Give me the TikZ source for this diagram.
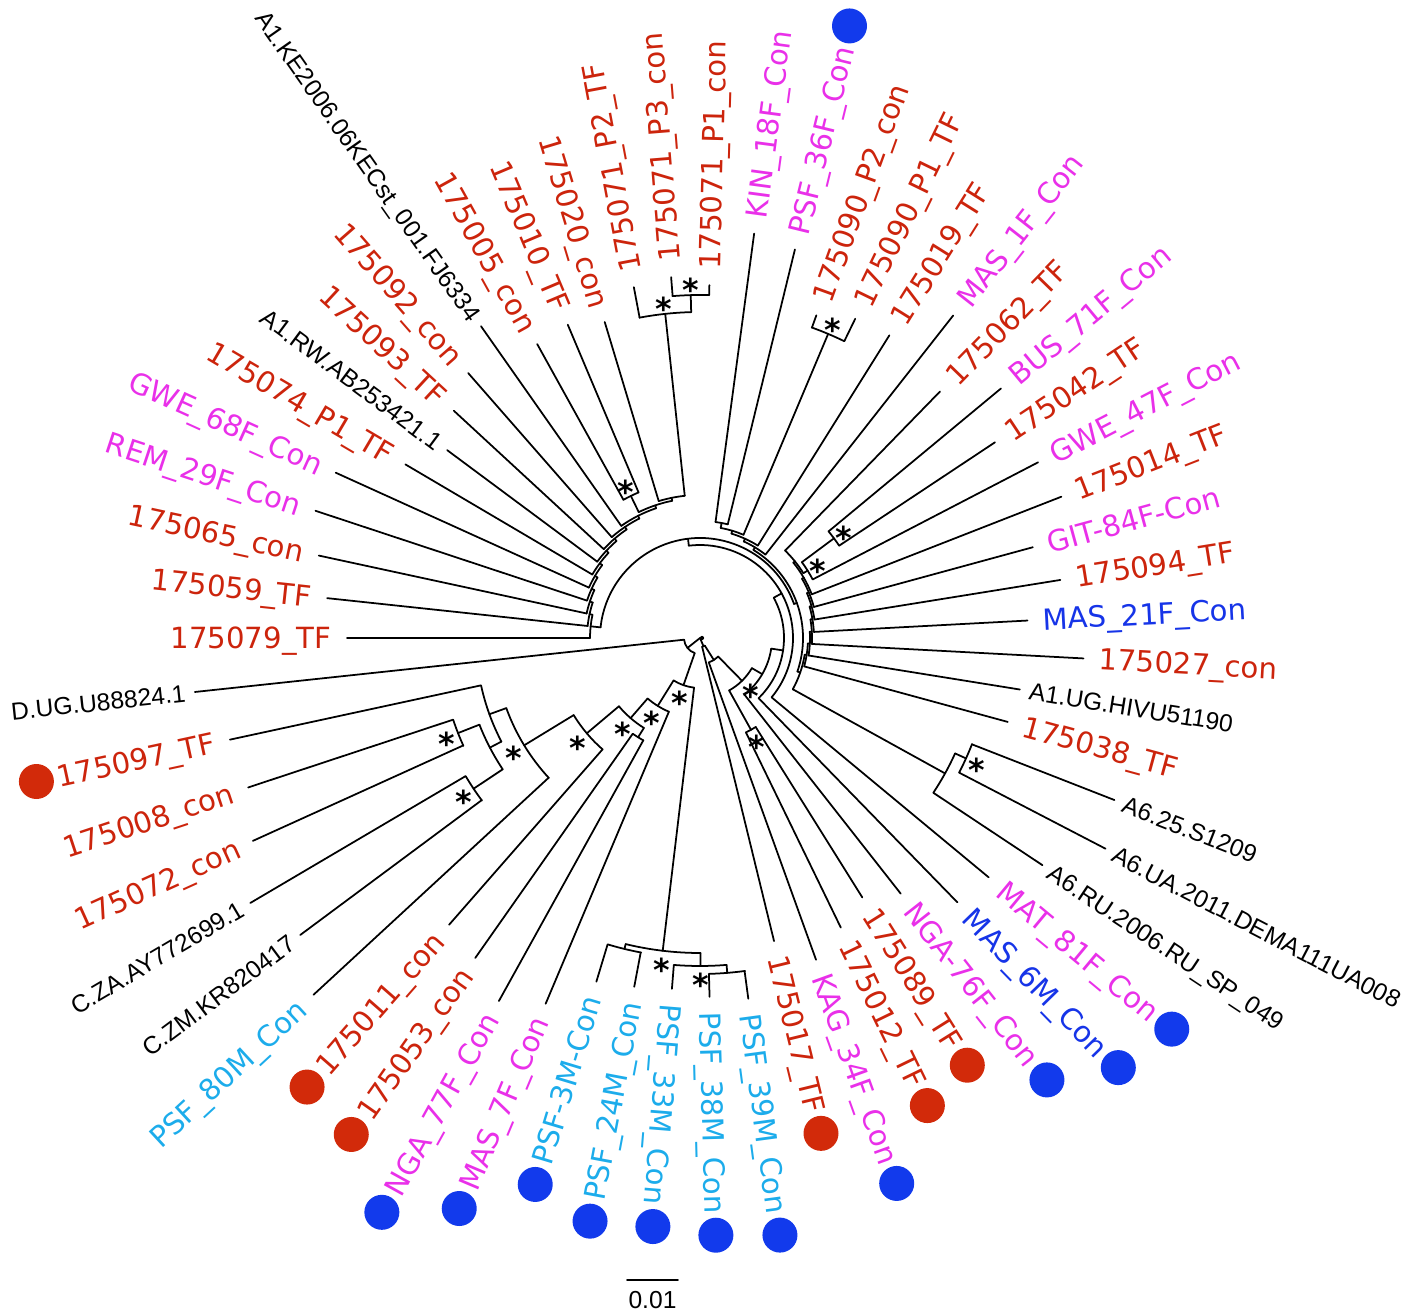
\documentclass[tikz,border=0pt]{standalone}
\usepackage{fontspec}
\setmainfont{DejaVu Sans}
\newfontfamily\refsans{Liberation Sans}

\definecolor{tfred}{RGB}{204,36,12}
\definecolor{patmag}{RGB}{233,48,233}
\definecolor{psfblue}{RGB}{28,172,235}
\definecolor{masblue}{RGB}{22,52,232}
\definecolor{dotred}{RGB}{210,42,10}
\definecolor{dotblue}{RGB}{18,58,236}

% radial branch: angle, inner radius, outer radius (radii in px/100 cm)
\newcommand{\stem}[3]{\draw[br] ({#1}:{#2/100}) -- ({#1}:{#3/100});}
% clade arc: radius, from angle, to angle
\newcommand{\clade}[3]{\draw[br] ({#2}:{#1/100}) arc[start angle={#2}, end angle={#3}, radius={#1/100}];}

\tikzset{
  br/.style={line width=0.5pt, line cap=round, line join=round},
  leaf/.style={inner sep=0pt, font=\fontsize{8.3}{10}\selectfont, text height=6pt, text depth=0pt},
  reflabel/.style={inner sep=0pt, font=\refsans\fontsize{7}{8.5}\selectfont, text height=5pt, text depth=0pt},
  bootstar/.style={inner sep=0pt, font=\bfseries\fontsize{9}{9}\selectfont, yshift=-1.9pt},
  tipdot/.style={circle, inner sep=0pt, minimum size=0.35cm},
}

\begin{document}
\begin{tikzpicture}
\useasboundingbox (-7.00,-6.73) rectangle (7.18,6.38);

% root
\fill (0.02,0) circle (0.6pt);

% internal branches
\foreach \ang/\ri/\ro in {-141.55/0/16, -67/0/9,
  -109.3/16/50, -96.8/50/315, -103.65/315/320, -89.9/315/328, -85.35/328/336,
  -121.9/50/80, -130.9/80/106, -121.95/106/117, -139.9/106/148, -148.6/148/206,
  -160.1/206/224, -152.45/224/237, -158.55/237/260, -146.35/237/272,
  -57.8/9/26, -45.55/26/60, -60.95/60/105, -30.15/60/72, -8.5/72/84,
  28.65/84/93, 96.9/93/100,
  173.9/100/110, 167.8/110/113, 161.7/113/116, 155.6/116/119, 149.45/119/122,
  143.3/122/125, 137.05/125/128, 130.7/128/131, 124.05/131/134, 116.9/134/137,
  108.7/137/140, 115.95/140/158, 101.46/140/143, 96.125/143/326, 91.55/326/343,
  19.9/100/103, -18.98/103/106, -28.925/106/280, -24.35/280/292,
  -9.06/106/108, -2.92/108/110, 3.27/110/112, 9.53/112/114, 15.97/114/116,
  22.74/116/118, 30.17/118/120, 38.94/120/122, 32.075/122/127, 36.65/127/167,
  58.75/103/106, 65.6/106/109, 73.25/109/112, 67.15/112/330, 79.35/112/117}
  {\stem{\ang}{\ri}{\ro}}

% clade arcs
\foreach \rr/\ai/\ao in {16/-173.8/-109.3,
  50/-121.9/-96.8, 315/-103.65/-89.9, 320/-106.7/-100.6, 328/-94.5/-85.35, 336/-88.4/-82.3,
  80/-130.9/-112.8, 106/-139.9/-121.95, 117/-125/-118.9, 148/-148.6/-131.1,
  206/-160.1/-137.2, 224/-167.7/-152.45, 237/-158.55/-146.35, 260/-161.6/-155.5,
  272/-149.4/-143.3,
  9/-76.2/-57.8, 26/-70.1/-45.55, 60/-60.95/-30.15, 105/-64/-57.9,
  72/-51.8/-8.5, 84/-45.7/28.65, 93/-39.6/96.9, 100/19.9/173.9,
  110/167.8/180, 113/161.7/173.9, 116/155.6/167.8, 119/149.45/161.7,
  122/143.3/155.6, 125/137.05/149.5, 128/130.7/143.4, 131/124.05/137.3,
  134/116.9/131.2, 137/108.7/125.1, 140/101.46/115.95, 158/112.9/119,
  143/96.125/106.8, 326/91.55/100.7, 343/88.5/94.6,
  103/-18.98/58.75, 106/-28.925/-9.06, 280/-33.5/-24.35, 292/-27.4/-21.3,
  108/-15.2/-2.92, 110/-9.1/3.27, 112/-3.0/9.53, 114/3.1/15.97, 116/9.2/22.74,
  118/15.3/30.17, 120/21.4/38.94, 122/32.075/45.8, 127/27.5/36.65, 167/33.6/39.7,
  106/51.9/65.6, 109/58.0/73.25, 112/67.15/79.35, 117/76.3/82.4, 330/64.1/70.2}
  {\clade{\rr}{\ai}{\ao}}

% coloured tips
\foreach \i/\rb/\rt/\lbl/\col in {
  0/110/353/175079\_TF/tfred, 1/113/375/175059\_TF/tfred,
  2/116/390/175065\_con/tfred, 3/119/405/REM\_29F\_Con/patmag,
  4/122/400/GWE\_68F\_Con/patmag, 5/125/342/175074\_P1\_TF/tfred,
  7/131/335/175093\_TF/tfred, 8/134/352/175092\_con/tfred,
  10/158/336/175005\_con/tfred, 11/158/340/175010\_TF/tfred,
  12/143/330/175020\_con/tfred, 13/326/357/175071\_P2\_TF/tfred,
  14/343/362/175071\_P3\_con/tfred, 15/343/353/175071\_P1\_con/tfred,
  16/117/408/KIN\_18F\_Con/patmag, 17/117/400/PSF\_36F\_Con/patmag,
  18/330/343/175090\_P2\_con/tfred, 19/330/355/175090\_P1\_TF/tfred,
  20/109/357/175019\_TF/tfred, 21/106/410/MAS\_1F\_Con/patmag,
  22/122/344/175062\_TF/tfred, 23/167/391/BUS\_71F\_Con/patmag,
  24/167/354/175042\_TF/tfred, 25/127/381/GWE\_47F\_Con/patmag,
  26/120/388/175014\_TF/tfred, 27/118/345/GIT-84F-Con/patmag,
  28/116/365/175094\_TF/tfred, 29/114/328/MAS\_21F\_Con/masblue,
  30/112/384/175027\_con/tfred, 32/108/319/175038\_TF/tfred,
  36/93/375/MAT\_81F\_Con/patmag, 37/84/369/MAS\_6M\_Con/masblue,
  38/72/325/NGA-76F\_Con/patmag, 39/105/306/175089\_TF/tfred,
  40/105/322/175012\_TF/tfred, 41/26/342/KAG\_34F\_Con/patmag,
  42/9/312/175017\_TF/tfred, 43/336/364/PSF\_39M\_Con/psfblue,
  44/336/359/PSF\_38M\_Con/psfblue, 45/328/352/PSF\_33M\_Con/psfblue,
  46/320/355/PSF\_24M\_Con/psfblue, 47/320/359/PSF-3M-Con/psfblue,
  48/80/397/MAS\_7F\_Con/patmag, 49/117/415/NGA\_77F\_Con/patmag,
  50/117/391/175053\_con/tfred, 51/148/381/175011\_con/tfred,
  52/206/526/PSF\_80M\_Con/psfblue, 55/260/491/175072\_con/tfred,
  56/260/476/175008\_con/tfred, 57/224/481/175097\_TF/tfred}{
  \pgfmathsetmacro\ang{180-6.1017*\i}
  \pgfmathsetmacro\rl{(\rt+15)/100}
  \ifnum\i<13 \def\anc{east}\pgfmathsetmacro\rot{\ang+180}\else
    \ifnum\i>45 \def\anc{east}\pgfmathsetmacro\rot{\ang+180}\else
      \def\anc{west}\let\rot\ang\fi\fi
  \draw[br] ({\ang}:{\rb/100}) -- ({\ang}:{\rt/100});
  \node[leaf, text=\col, anchor=\anc, rotate=\rot] (lab\i) at ({\ang}:{\rl}) {\lbl};
}

% reference sequences
\foreach \i/\rb/\rt/\lbl in {
  6/128/315/A1.RW.AB253421.1, 9/137/381/A1.KE2006.06KECst\_001.FJ6334,
  31/110/324/A1.UG.HIVU51190, 33/292/445/A6.25.S1209,
  34/292/457/A6.UA.2011.DEMA111UA008, 35/280/411/A6.RU.2006.RU\_SP\_049,
  53/272/498/C.ZM.KR820417, 54/272/522/C.ZA.AY772699.1,
  58/16/508/D.UG.U88824.1}{
  \pgfmathsetmacro\ang{180-6.1017*\i}
  \pgfmathsetmacro\rl{(\rt+9)/100}
  \ifnum\i<13 \def\anc{east}\pgfmathsetmacro\rot{\ang+180}\else
    \ifnum\i>45 \def\anc{east}\pgfmathsetmacro\rot{\ang+180}\else
      \def\anc{west}\let\rot\ang\fi\fi
  \draw[br] ({\ang}:{\rb/100}) -- ({\ang}:{\rt/100});
  \node[reflabel, anchor=\anc, rotate=\rot] (lab\i) at ({\ang}:{\rl}) {\lbl};
}

% tip dots
\foreach \i/\dc in {17/dotblue, 36/dotblue, 37/dotblue, 38/dotblue, 39/dotred,
  40/dotred, 41/dotblue, 42/dotred, 43/dotblue, 44/dotblue, 45/dotblue,
  46/dotblue, 47/dotblue, 48/dotblue, 49/dotblue, 50/dotred, 51/dotred, 57/dotred}{
  \pgfmathsetmacro\ang{180-6.1017*\i}
  \ifnum\i>45 \def\side{west}\else\def\side{east}\fi
  \path (lab\i.\side) ++({\ang}:0.21) node[tipdot, fill=\dc] (dot\i) {};
}

% support stars
\foreach \ang/\rr [count=\k] in {91.55/343, 96.125/326, 67.15/330, 115.95/158,
  36.65/167, 32.075/127, -45.55/60, -60.95/105, -24.35/292, -158.55/260,
  -148.6/206, -146.35/272, -139.9/148, -130.9/106, -121.9/80, -109.3/50,
  -96.8/315, -89.9/328}
  {\node[bootstar] (star\k) at ({\ang}:{(\rr+12)/100}) {*};}

% scale bar
\coordinate (sbl) at (-0.73,-6.42);
\coordinate (sbr) at (-0.22,-6.42);
\draw[br] (sbl) -- (sbr);
\node[reflabel] (sbtxt) at (-0.475,-6.62) {0.01};
\end{tikzpicture}
\end{document}
